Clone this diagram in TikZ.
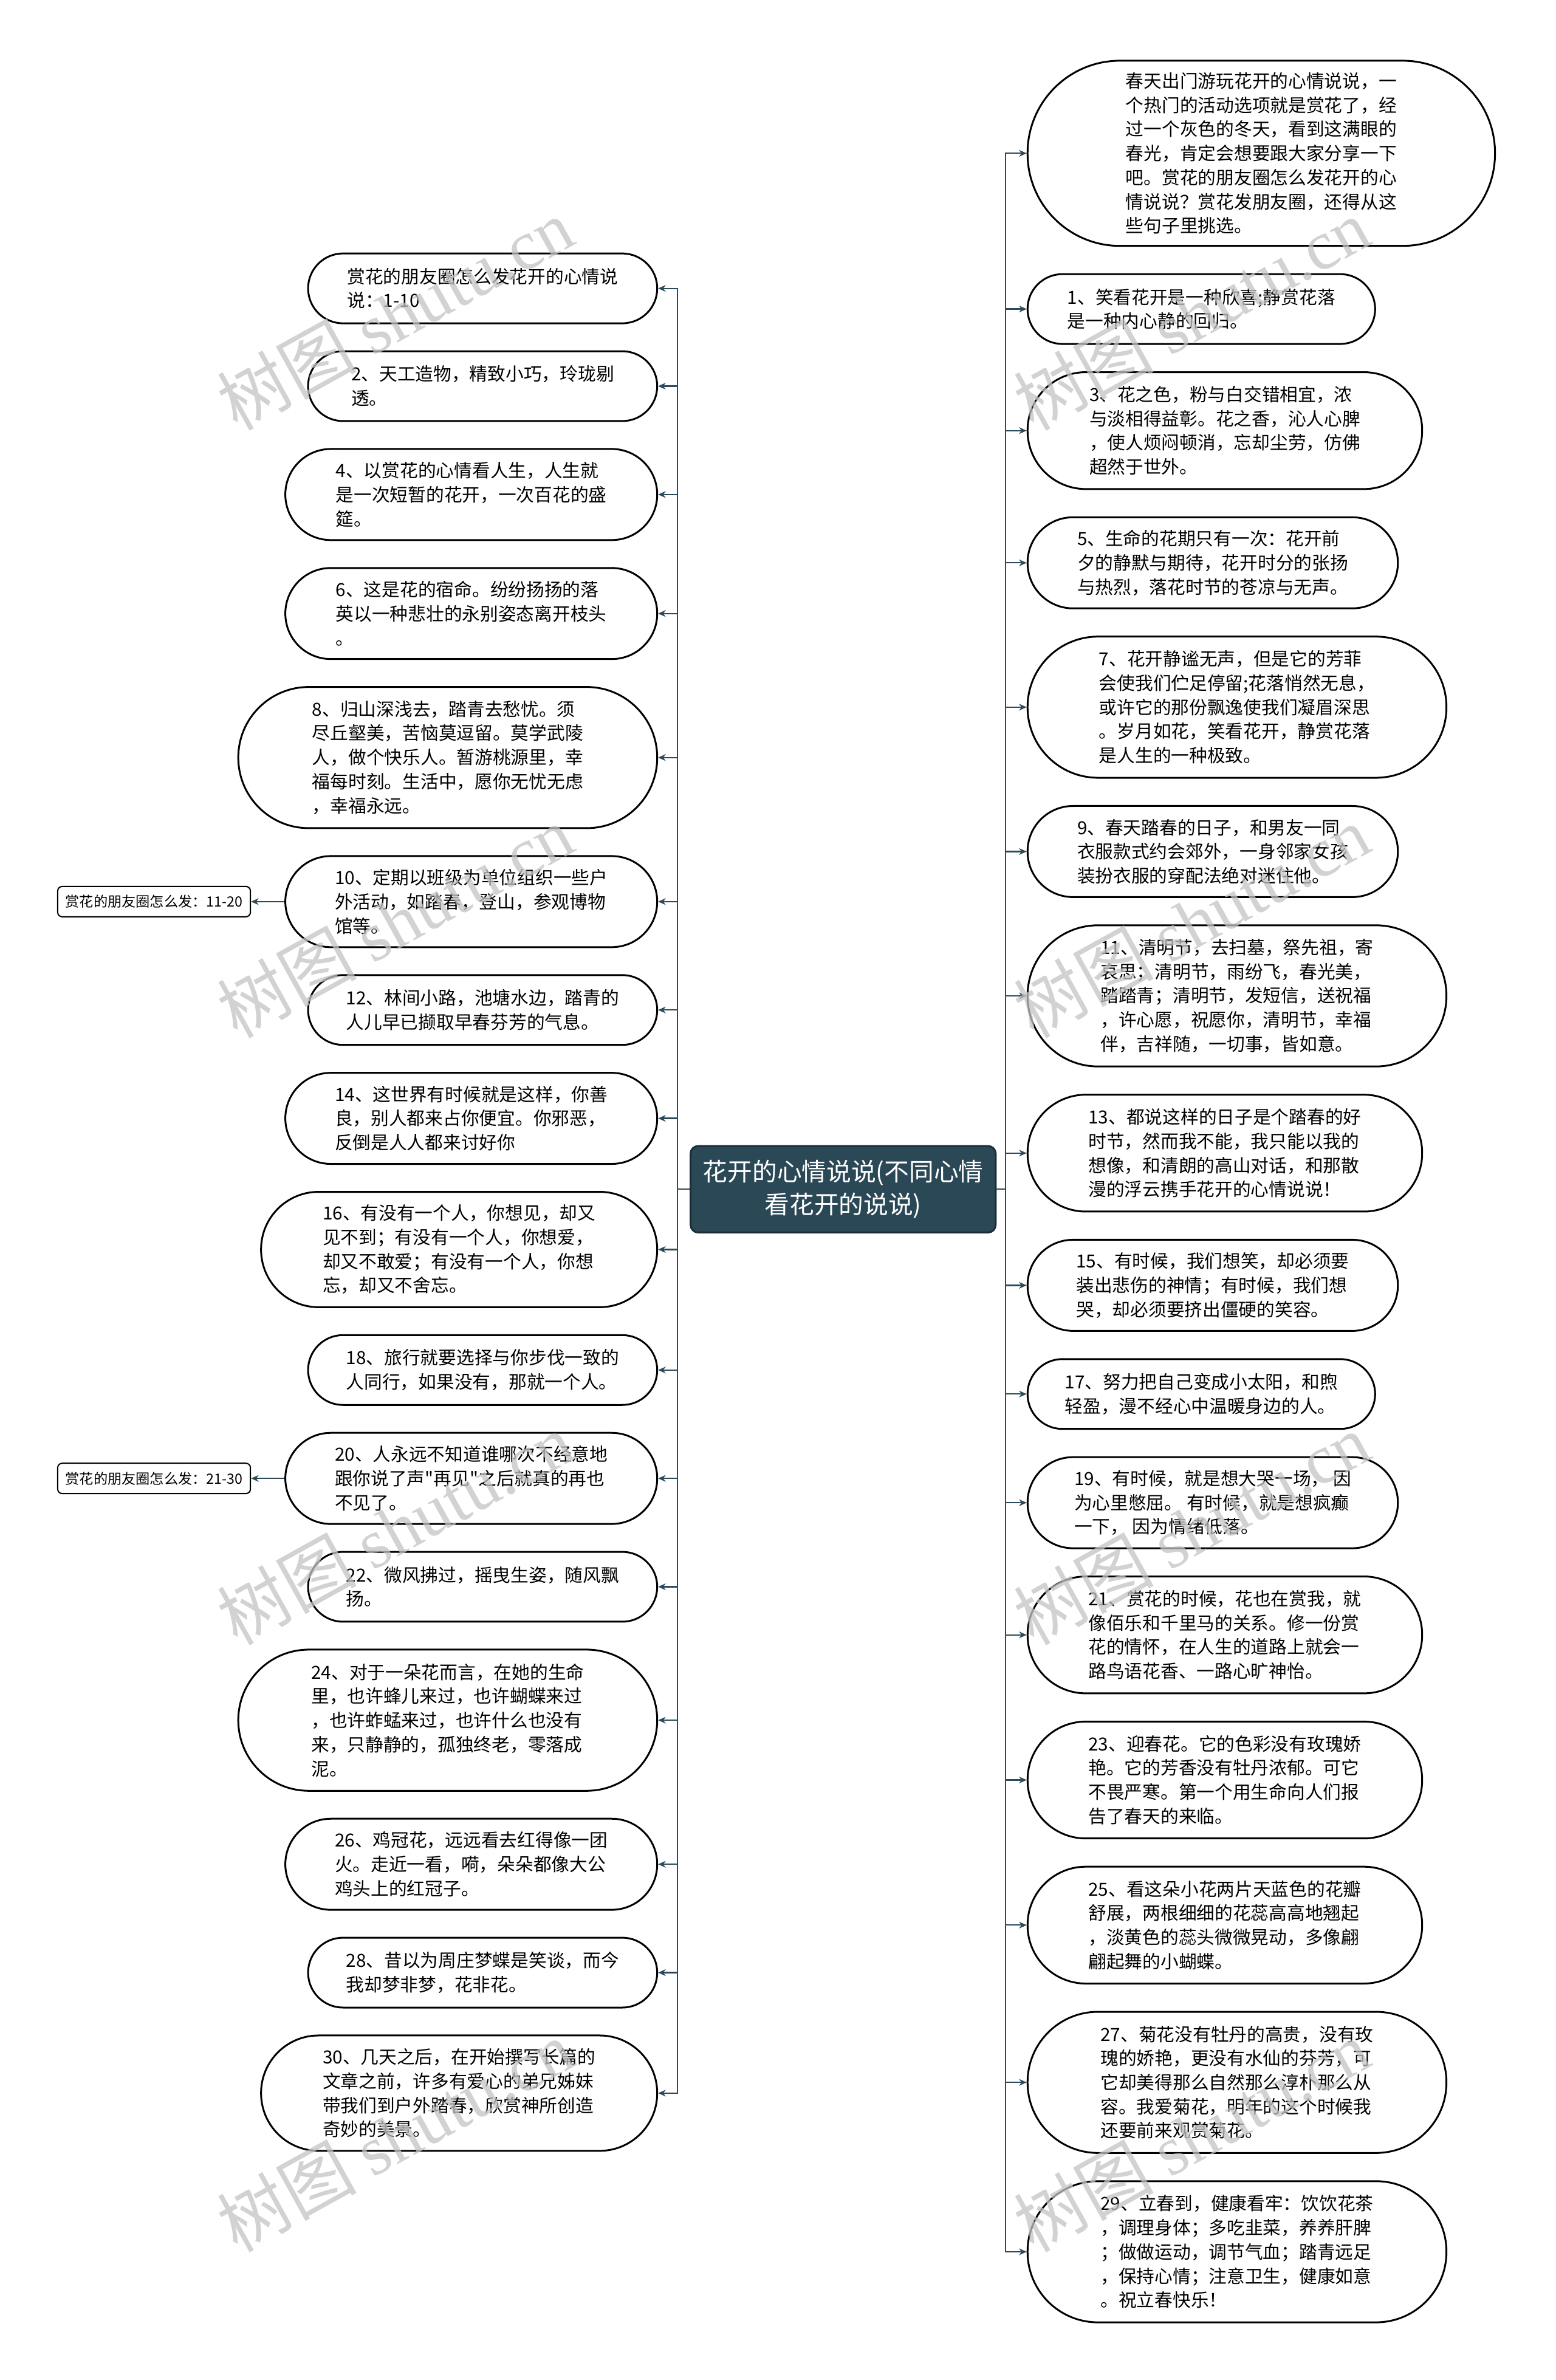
\documentclass[tikz,border=0pt]{standalone}
\usepackage{fontspec}
\setmainfont{Noto Sans CJK SC}[Ligatures=TeXOff]
\newfontfamily\wmserif{Liberation Serif}
\usetikzlibrary{arrows.meta}
\definecolor{connc}{HTML}{2C4A5A}
\definecolor{centfill}{HTML}{2B4856}
\definecolor{centdraw}{HTML}{1C2D36}
\definecolor{wmgray}{HTML}{C4C4C4}
\tikzset{
  pillbox/.style={draw=black, line width=1.2pt, fill=white, align=left, inner sep=0pt,
    font=\fontsize{11.9}{15.9}\selectfont},
  link/.style={draw=connc, line width=0.9pt, -{Stealth[length=5pt,width=4.4pt]}},
  smallbox/.style={draw=black, line width=0.8pt, fill=white, rounded corners=3pt, inner sep=0pt,
    minimum width=127pt, minimum height=20pt, font=\fontsize{9.3}{11}\selectfont},
  centbox/.style={draw=centdraw, fill=centfill, text=white, line width=1.2pt, rounded corners=5pt,
    minimum width=201pt, minimum height=57pt, align=center, inner sep=0pt,
    font=\fontsize{16.3}{21.5}\selectfont},
  wmark/.style={rotate=29, text=wmgray, opacity=0.75, font=\fontsize{46}{46}\selectfont}
}
\newcommand\pill[6]{\node[pillbox, minimum width=#4pt, minimum height=#5pt, rounded corners=#5pt*0.499] (#1) at (#2,#3) {#6};}
\begin{document}
\begin{tikzpicture}[x=1pt,y=-1pt]
\fill[white] (0,0) rectangle (1025,1568);
\useasboundingbox (0,0) rectangle (1025,1568);

\node[centbox] (C) at (555.5,783.5) {花开的心情说说(不同心情\\看花开的说说)};

% left column
\pill{L1}{318}{190}{230}{46}{赏花的朋友圈怎么发花开的心情说\\说：1-10}
\pill{L2}{318}{254.4}{230}{46}{2、天工造物，精致小巧，玲珑剔\\透。}
\pill{L3}{310.5}{325.8}{245}{60}{4、以赏花的心情看人生，人生就\\是一次短暂的花开，一次百花的盛\\筵。}
\pill{L4}{310.5}{404.2}{245}{60}{6、这是花的宿命。纷纷扬扬的落\\英以一种悲壮的永别姿态离开枝头\\。}
\pill{L5}{295}{499.1}{276}{93}{8、归山深浅去，踏青去愁忧。须\\尽丘壑美，苦恼莫逗留。莫学武陵\\人，做个快乐人。暂游桃源里，幸\\福每时刻。生活中，愿你无忧无虑\\，幸福永远。}
\pill{L6}{310.5}{594}{245}{60}{10、定期以班级为单位组织一些户\\外活动，如踏春，登山，参观博物\\馆等。}
\pill{L7}{318}{665.4}{230}{46}{12、林间小路，池塘水边，踏青的\\人儿早已撷取早春芬芳的气息。}
\pill{L8}{310.5}{736.8}{245}{60}{14、这世界有时候就是这样，你善\\良，别人都来占你便宜。你邪恶，\\反倒是人人都来讨好你}
\pill{L9}{302.5}{823.2}{261}{76}{16、有没有一个人，你想见，却又\\见不到；有没有一个人，你想爱，\\却又不敢爱；有没有一个人，你想\\忘，却又不舍忘。}
\pill{L10}{318}{902.6}{230}{46}{18、旅行就要选择与你步伐一致的\\人同行，如果没有，那就一个人。}
\pill{L11}{310.5}{974}{245}{60}{20、人永远不知道谁哪次不经意地\\跟你说了声"再见"之后就真的再也\\不见了。}
\pill{L12}{318}{1045.4}{230}{46}{22、微风拂过，摇曳生姿，随风飘\\扬。}
\pill{L13}{295}{1133.3}{276}{93}{24、对于一朵花而言，在她的生命\\里，也许蜂儿来过，也许蝴蝶来过\\，也许蚱蜢来过，也许什么也没有\\来，只静静的，孤独终老，零落成\\泥。}
\pill{L14}{310.5}{1228.2}{245}{60}{26、鸡冠花，远远看去红得像一团\\火。走近一看，嗬，朵朵都像大公\\鸡头上的红冠子。}
\pill{L15}{318}{1299.6}{230}{46}{28、昔以为周庄梦蝶是笑谈，而今\\我却梦非梦，花非花。}
\pill{L16}{302.5}{1379}{261}{76}{30、几天之后，在开始撰写长篇的\\文章之前，许多有爱心的弟兄姊妹\\带我们到户外踏春，欣赏神所创造\\奇妙的美景。}

\node[smallbox] (S1) at (101.5,594) {赏花的朋友圈怎么发：11-20};
\node[smallbox] (S2) at (101.5,974) {赏花的朋友圈怎么发：21-30};

% right column
\pill{R1}{831}{101}{308}{122}{春天出门游玩花开的心情说说，一\\个热门的活动选项就是赏花了，经\\过一个灰色的冬天，看到这满眼的\\春光，肯定会想要跟大家分享一下\\吧。赏花的朋友圈怎么发花开的心\\情说说？赏花发朋友圈，还得从这\\些句子里挑选。}
\pill{R2}{791.5}{203.6}{229}{46}{1、笑看花开是一种欣喜;静赏花落\\是一种内心静的回归。}
\pill{R3}{807}{283.7}{260}{77}{3、花之色，粉与白交错相宜，浓\\与淡相得益彰。花之香，沁人心脾\\，使人烦闷顿消，忘却尘劳，仿佛\\超然于世外。}
\pill{R4}{799}{370.8}{244}{60}{5、生命的花期只有一次：花开前\\夕的静默与期待，花开时分的张扬\\与热烈，落花时节的苍凉与无声。}
\pill{R5}{815}{465.9}{276}{93}{7、花开静谧无声，但是它的芳菲\\会使我们伫足停留;花落悄然无息，\\或许它的那份飘逸使我们凝眉深思\\。岁月如花，笑看花开，静赏花落\\是人生的一种极致。}
\pill{R6}{799}{561}{244}{60}{9、春天踏春的日子，和男友一同\\衣服款式约会郊外，一身邻家女孩\\装扮衣服的穿配法绝对迷住他。}
\pill{R7}{815}{656.1}{276}{93}{11、清明节，去扫墓，祭先祖，寄\\哀思；清明节，雨纷飞，春光美，\\踏踏青；清明节，发短信，送祝福\\，许心愿，祝愿你，清明节，幸福\\伴，吉祥随，一切事，皆如意。}
\pill{R8}{807}{759.7}{260}{77}{13、都说这样的日子是个踏春的好\\时节，然而我不能，我只能以我的\\想像，和清朗的高山对话，和那散\\漫的浮云携手花开的心情说说！}
\pill{R9}{799}{846.8}{244}{60}{15、有时候，我们想笑，却必须要\\装出悲伤的神情；有时候，我们想\\哭，却必须要挤出僵硬的笑容。}
\pill{R10}{791.5}{918.4}{229}{46}{17、努力把自己变成小太阳，和煦\\轻盈，漫不经心中温暖身边的人。}
\pill{R11}{799}{990}{244}{60}{19、有时候，就是想大哭一场， 因\\为心里憋屈。 有时候，就是想疯癫\\一下， 因为情绪低落。}
\pill{R12}{807}{1077.1}{260}{77}{21、赏花的时候，花也在赏我，就\\像佰乐和千里马的关系。修一份赏\\花的情怀，在人生的道路上就会一\\路鸟语花香、一路心旷神怡。}
\pill{R13}{807}{1172.7}{260}{77}{23、迎春花。它的色彩没有玫瑰娇\\艳。它的芳香没有牡丹浓郁。可它\\不畏严寒。第一个用生命向人们报\\告了春天的来临。}
\pill{R14}{807}{1268.3}{260}{77}{25、看这朵小花两片天蓝色的花瓣\\舒展，两根细细的花蕊高高地翘起\\，淡黄色的蕊头微微晃动，多像翩\\翩起舞的小蝴蝶。}
\pill{R15}{815}{1371.9}{276}{93}{27、菊花没有牡丹的高贵，没有玫\\瑰的娇艳，更没有水仙的芬芳，可\\它却美得那么自然那么淳朴那么从\\容。我爱菊花，明年的这个时候我\\还要前来观赏菊花。}
\pill{R16}{815}{1483.5}{276}{93}{29、立春到，健康看牢：饮饮花茶\\，调理身体；多吃韭菜，养养肝脾\\；做做运动，调节气血；踏青远足\\，保持心情；注意卫生，健康如意\\。祝立春快乐！}

% connectors
\foreach \k in {1,...,16} {
  \draw[link] (C.west) -- ++(-8,0) |- (L\k.east);
  \draw[link] (C.east) -- ++(6,0) |- (R\k.west);
}
\draw[link] (L6.west) -- (S1.east);
\draw[link] (L11.west) -- (S2.east);

% watermarks
\foreach \wx in {260,785} {
  \foreach \wy in {207,607,1007,1407} {
    \node[wmark] at (\wx,\wy) {树图 {\wmserif shutu.cn}};
  }
}
\end{tikzpicture}
\end{document}
